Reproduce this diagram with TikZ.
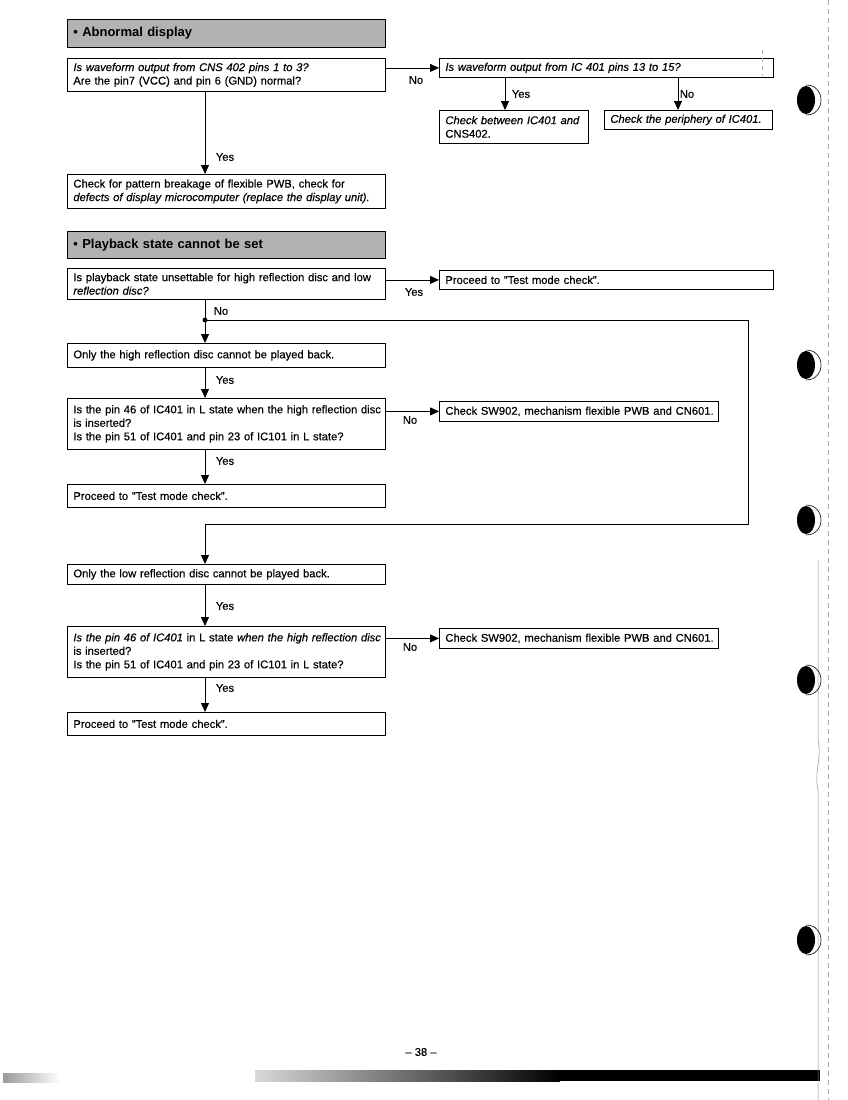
\documentclass[tikz,border=0pt]{standalone}
\usepackage{fontspec}
\setmainfont{Liberation Sans}[UprightFeatures={FakeBold=0.35},ItalicFeatures={FakeBold=0.35}]
\usetikzlibrary{arrows.meta,calc}
\newcommand\fs{\fontsize{11.2}{13.5}\selectfont}
\newcommand\tline[1]{\mbox{#1}}
\begin{document}
\begin{tikzpicture}[x=1pt,y=-1pt,
  box/.style={draw, line width=0.8pt, anchor=north west, align=left, inner xsep=6pt, inner ysep=0pt, font=\fs},
  hdr/.style={draw, line width=0.8pt, fill=black!30, anchor=north west, align=left, inner xsep=6pt, inner ysep=0pt, text width=306pt, font=\fontsize{13}{15}\selectfont\bfseries},
  arr/.style={line width=0.8pt, -{Triangle[length=9pt,width=8pt]}},
  conn/.style={line width=0.8pt},
  lab/.style={font=\fs, inner sep=0pt}]
\useasboundingbox (0,0) rectangle (848,1100);
\fill[white] (0,0) rectangle (848,1100);
% coordinates for the columns
\coordinate (col) at (205,0);
\coordinate (cy) at (505,0);
\coordinate (cn) at (678,0);
% ---------- section 1
\node[hdr, minimum height=28pt] (H1) at (67,19) {\textbullet\ Abnormal display};
\node[box, text width=306pt, minimum height=33pt] (A1) at (67,58)
  {\tline{\itshape Is waveform output from CNS 402 pins 1 to 3?}\\\tline{Are the pin7 (VCC) and pin 6 (GND) normal?}};
\node[box, text width=322pt, minimum height=19pt] (A2) at (439,58)
  {\tline{\itshape Is waveform output from IC 401 pins 13 to 15?}};
\node[box, text width=137pt, minimum height=33pt] (A3) at (439,110)
  {\tline{\itshape Check between IC401 and}\\\tline{CNS402.}};
\node[box, text width=156pt, minimum height=19pt] (A4) at (604,110)
  {\tline{\itshape Check the periphery of IC401.}};
\node[box, text width=306pt, minimum height=34pt] (A5) at (67,174)
  {\tline{Check for pattern breakage of flexible PWB, check for}\\\tline{\itshape defects of display microcomputer (replace the display unit).}};
\draw[arr] (A1.east |- A2.west) -- (A2.west);
\node[lab] (lA12) at (416,80) {No};
\draw[arr] (A2.south -| cy) -- (A3.north -| cy);
\node[lab] (lA23) at (521,94) {Yes};
\draw[arr] (A2.south -| cn) -- (A4.north -| cn);
\node[lab] (lA24) at (687,94) {No};
\draw[arr] (A1.south -| col) -- (A5.north -| col);
\node[lab] (lA15) at (225,157) {Yes};
% ---------- section 2
\node[hdr, minimum height=27pt] (H2) at (67,231) {\textbullet\ Playback state cannot be set};
\node[box, text width=306pt, minimum height=31pt] (B1) at (67,268)
  {\tline{Is playback state unsettable for high reflection disc and low}\\\tline{\itshape reflection disc?}};
\node[box, text width=322pt, minimum height=19pt] (B2) at (439,270)
  {\tline{Proceed to "Test mode check".}};
\node[box, text width=306pt, minimum height=24pt] (B3) at (67,343)
  {\tline{Only the high reflection disc cannot be played back.}};
\node[box, text width=306pt, minimum height=51pt] (B4) at (67,398)
  {\tline{Is the pin 46 of IC401 in L state when the high reflection disc}\\\tline{is inserted?}\\\tline{Is the pin 51 of IC401 and pin 23 of IC101 in L state?}};
\node[box, text width=267pt, minimum height=20pt] (B5) at (439,401)
  {\tline{Check SW902, mechanism flexible PWB and CN601.}};
\node[box, text width=306pt, minimum height=23pt] (B6) at (67,484)
  {\tline{Proceed to "Test mode check".}};
\node[box, text width=306pt, minimum height=20pt] (C1) at (67,564)
  {\tline{Only the low reflection disc cannot be played back.}};
\node[box, text width=306pt, minimum height=51pt] (C2) at (67,626)
  {\tline{{\itshape Is the pin 46 of IC401} in L state {\itshape when the high reflection disc}}\\\tline{is inserted?}\\\tline{Is the pin 51 of IC401 and pin 23 of IC101 in L state?}};
\node[box, text width=267pt, minimum height=20pt] (C3) at (439,628)
  {\tline{Check SW902, mechanism flexible PWB and CN601.}};
\node[box, text width=306pt, minimum height=23pt] (C4) at (67,712)
  {\tline{Proceed to "Test mode check".}};
% connectors section 2
\draw[arr] (B1.east |- B2.west) -- (B2.west);
\node[lab] (lB12) at (414,292) {Yes};
\node[circle, fill, inner sep=1.7pt] (J) at (205,320) {};
\draw[conn] (B1.south -| col) -- (J.center);
\draw[arr] (J.center) -- (B3.north -| col);
\node[lab] (lB13) at (221,311) {No};
\coordinate (L1) at (748,320);
\coordinate (L2) at (748,524);
\coordinate (L3) at (205,524);
\draw[conn] (J.center) -- (L1) -- (L2) -- (L3);
\draw[arr] (L3) -- (C1.north -| col);
\draw[arr] (B3.south -| col) -- (B4.north -| col);
\node[lab] (lB34) at (225,380) {Yes};
\draw[arr] (B4.east |- B5.west) -- (B5.west);
\node[lab] (lB45) at (410,420) {No};
\draw[arr] (B4.south -| col) -- (B6.north -| col);
\node[lab] (lB46) at (225,461) {Yes};
\draw[arr] (C1.south -| col) -- (C2.north -| col);
\node[lab] (lC12) at (225,606) {Yes};
\draw[arr] (C2.east |- C3.west) -- (C3.west);
\node[lab] (lC23) at (410,647) {No};
\draw[arr] (C2.south -| col) -- (C4.north -| col);
\node[lab] (lC24) at (225,688) {Yes};
% ---------- page furniture
\node[font=\fs] (pg) at (421,1052) {– 38 –};
\shade[left color=black!15, right color=black] (255,1070) rectangle (560,1081);
\fill (559,1070) rectangle (820,1081);
\shade[left color=black!40, right color=white] (3,1073) rectangle (60,1082);
\draw[black!35, line width=0.4pt, dash pattern=on 5pt off 4pt] (828,0) -- (828,1100);
\draw[black!30, line width=0.4pt, dash pattern=on 4pt off 4pt] (762,50) -- (762,76);
\draw[black!45, line width=0.5pt] (818,560) -- (818,740) .. controls (822,760) and (814,770) .. (818,790) -- (818,1100);
\foreach \yy in {100,365,520,680,940}{
  \fill (806,\yy) ellipse (9pt and 14pt);
  \draw[line width=0.6pt] (806,\yy-15) .. controls (826,\yy-15) and (826,\yy+15) .. (806,\yy+15);
}
\end{tikzpicture}
\end{document}
